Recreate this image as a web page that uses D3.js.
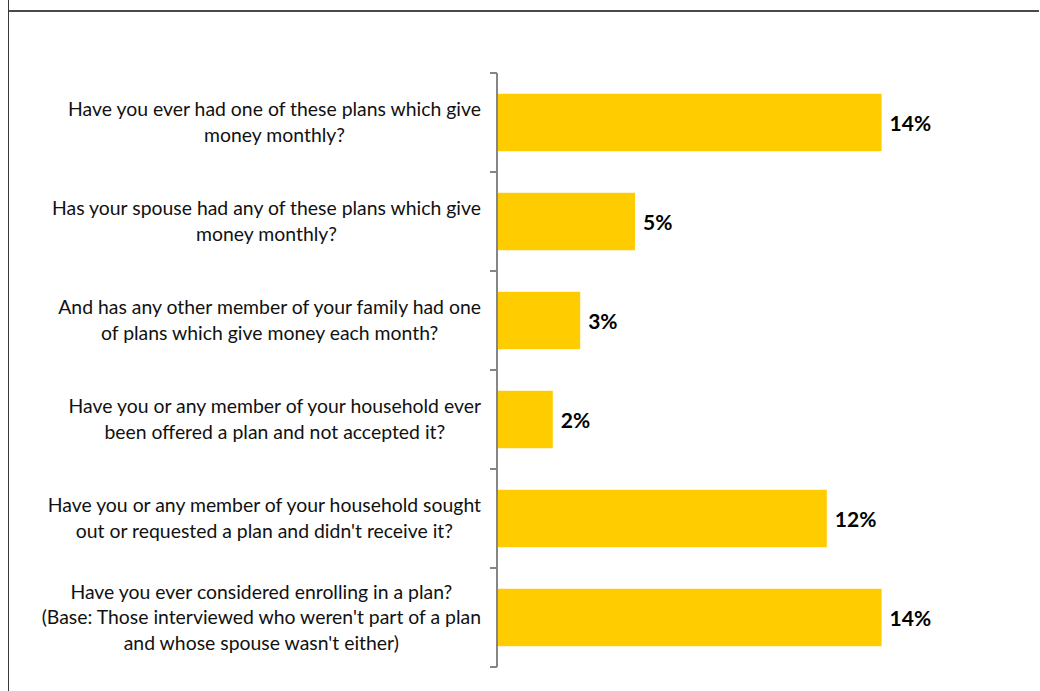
<!DOCTYPE html>
<html>
<head>
<meta charset="utf-8">
<script src="https://cdn.jsdelivr.net/npm/d3@7"></script>
<style>
  html, body { margin: 0; padding: 0; background: #fff; }
  svg { display: block; }
</style>
</head>
<body>
<svg id="chart" width="1040" height="691"></svg>
<script>
// Survey questions (each entry is split into its display lines)
const questions = [
  ["Have you ever had one of these plans which give", "money monthly?"],
  ["Has your spouse had any of these plans which give", "money monthly?"],
  ["And has any other member of your family had one", "of plans which give money each month?"],
  ["Have you or any member of your household ever", "been offered a plan and not accepted it?"],
  ["Have you or any member of your household sought", "out or requested a plan and didn't receive it?"],
  ["Have you ever considered enrolling in a plan?", "(Base: Those interviewed who weren't part of a plan", "and whose spouse wasn't either)"]
];
// Share answering "yes", in percent
const shares = [14, 5, 3, 2, 12, 14];

const svg = d3.select("#chart");
const W = 1040, H = 691;
const axisX = 497;
const labelRight = 481;
const labelFont = "Lato, 'Open Sans', sans-serif";

// Frame lines
svg.append("line").attr("x1", 8.5).attr("x2", 8.5).attr("y1", 0).attr("y2", H)
  .attr("stroke", "#3a3a3a").attr("stroke-width", 1);
svg.append("line").attr("x1", 9).attr("x2", 1039).attr("y1", 11).attr("y2", 11)
  .attr("stroke", "#4a4a4a").attr("stroke-width", 2);

const ids = questions.map((q, i) => i);
const y = d3.scaleBand().domain(ids).range([73, 667])
  .paddingInner(0.42).paddingOuter(0.21);
const x = d3.scaleLinear().domain([0, 16]).range([axisX + 1, axisX + 1 + 16 * 27.4]);

// Bars
svg.append("g").selectAll("rect").data(ids).join("rect")
  .attr("x", x(0))
  .attr("y", i => y(i))
  .attr("width", i => x(shares[i]) - x(0))
  .attr("height", y.bandwidth())
  .attr("fill", "#FFCC00");

// Category axis with tick marks between bands
const axisG = svg.append("g");
axisG.append("line").attr("x1", axisX).attr("x2", axisX).attr("y1", 73).attr("y2", 667)
  .attr("stroke", "#868686").attr("stroke-width", 2);
const edges = ids.map(i => y(i) - y.step() * y.paddingInner() / 2);
edges[0] = 73;
edges.push(667);
axisG.selectAll("line.tick").data(edges).join("line").attr("class", "tick")
  .attr("x1", axisX - 7).attr("x2", axisX).attr("y1", d => d).attr("y2", d => d)
  .attr("stroke", "#868686").attr("stroke-width", 2);

// Question labels: lines centred within a box whose right edge is fixed
const lineGap = 25.5;
const qG = svg.append("g").attr("font-family", labelFont).attr("font-size", 19.4)
  .attr("fill", "#111").attr("text-anchor", "middle");
ids.forEach(i => {
  const lines = questions[i];
  const cy = y(i) + y.bandwidth() / 2 - 1.5;
  const t = qG.append("text")
    .attr("y", cy - (lines.length - 1) * lineGap / 2)
    .attr("dominant-baseline", "central");
  const spans = lines.map((s, k) =>
    t.append("tspan").attr("dy", k === 0 ? 0 : lineGap).text(s));
  const widest = d3.max(spans, sp => sp.node().getComputedTextLength());
  const cx = labelRight - widest / 2;
  spans.forEach(sp => sp.attr("x", cx));
});

// Value labels
svg.append("g").selectAll("text").data(ids).join("text")
  .attr("x", i => x(shares[i]) + 8)
  .attr("y", i => y(i) + y.bandwidth() / 2)
  .attr("dominant-baseline", "central")
  .attr("font-family", labelFont).attr("font-weight", "bold").attr("font-size", 21)
  .attr("fill", "#000")
  .text(i => shares[i] + "%");
</script>
</body>
</html>
